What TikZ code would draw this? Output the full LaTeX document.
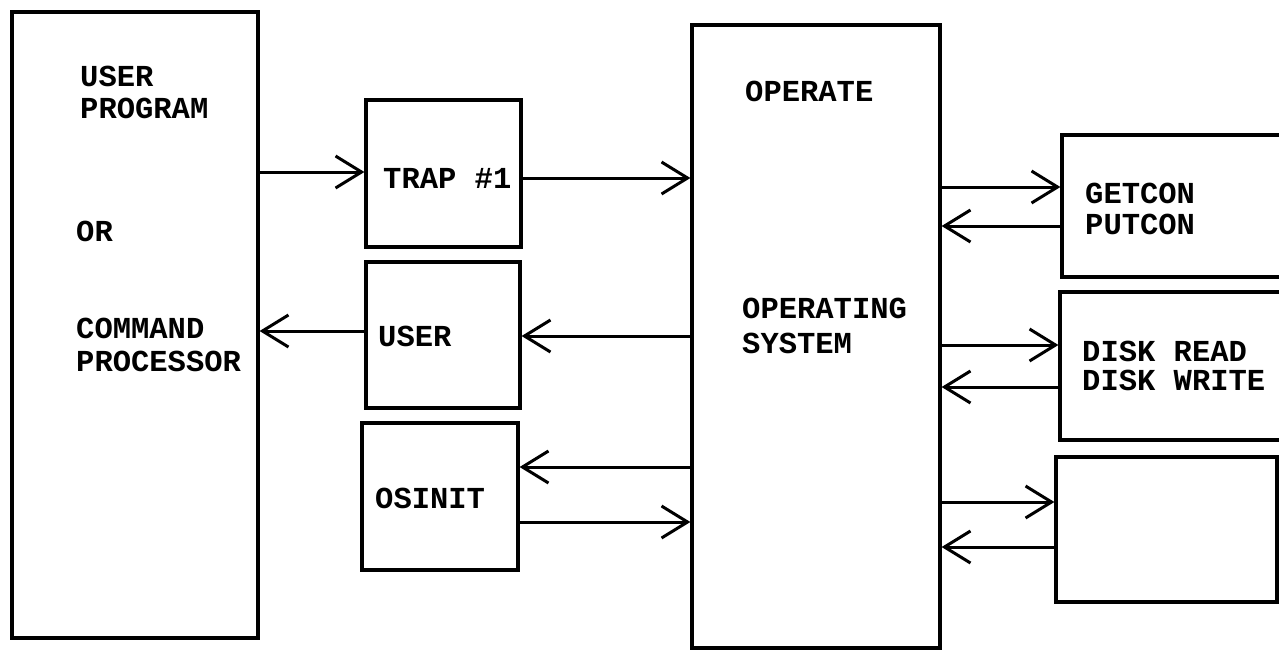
\documentclass[tikz,border=0pt]{standalone}
\usepackage{fontspec}
\setmonofont{Liberation Mono}
\usetikzlibrary{arrows.meta}
\tikzset{
  box/.style={draw, line width=3.2pt, inner sep=0pt, anchor=center},
  label/.style={inner sep=0pt, anchor=base west, font=\fontsize{30.5}{34}\ttfamily\bfseries},
  link/.style={line width=3pt, -{Straight Barb[length=26pt,width=32pt,line width=3pt]}},
}
\begin{document}
\begin{tikzpicture}[x=1pt, y=-1pt]
\useasboundingbox (0,0) rectangle (1279,649);
\clip (0,0) rectangle (1279,649);

% blocks
\node[box, minimum width=246pt, minimum height=626pt] (prog)   at (135,325)    {};
\node[box, minimum width=155pt, minimum height=147pt] (trap)   at (443.5,173.5) {};
\node[box, minimum width=154pt, minimum height=146pt] (user)   at (443,335)    {};
\node[box, minimum width=156pt, minimum height=147pt] (osinit) at (440,496.5)  {};
\node[box, minimum width=248pt, minimum height=623pt] (os)     at (816,336.5)  {};
\node[box, minimum width=228pt, minimum height=142pt] (con)    at (1176,206)   {};
\node[box, minimum width=230pt, minimum height=148pt] (disk)   at (1175,366)   {};
\node[box, minimum width=221pt, minimum height=145pt] (spare)  at (1166.5,529.5) {};

% texts
\node[label] (tUser)    at (80,86)   {USER};
\node[label] (tProgram) at (80,118)  {PROGRAM};
\node[label] (tOr)      at (76,241)  {OR};
\node[label] (tCommand) at (76,338)  {COMMAND};
\node[label] (tProc)    at (76,371)  {PROCESSOR};
\node[label] (tTrap)    at (383,188) {TRAP \#1};
\node[label] (tUser2)   at (378,346) {USER};
\node[label] (tOsinit)  at (375,508) {OSINIT};
\node[label] (tOperate) at (745,101) {OPERATE};
\node[label] (tOpsys)   at (742,318) {OPERATING};
\node[label] (tSystem)  at (742,353) {SYSTEM};
\node[label] (tGet)     at (1085,203) {GETCON};
\node[label] (tPut)     at (1085,234) {PUTCON};
\node[label] (tRead)    at (1082,361) {DISK READ};
\node[label] (tWrite)   at (1082,390) {DISK WRITE};

% connectors
\draw[link] (prog.east |- 0,172)  -- (trap.west |- 0,172);
\draw[link] (trap.east |- 0,178)  -- (os.west |- 0,178);
\draw[link] (os.west |- 0,336)    -- (user.east |- 0,336);
\draw[link] (user.west |- 0,331)  -- (prog.east |- 0,331);
\draw[link] (os.west |- 0,467)    -- (osinit.east |- 0,467);
\draw[link] (osinit.east |- 0,522) -- (os.west |- 0,522);

\draw[link] (os.east |- 0,187)    -- (con.west |- 0,187);
\draw[link] (con.west |- 0,226)   -- (os.east |- 0,226);
\draw[link] (os.east |- 0,345)    -- (disk.west |- 0,345);
\draw[link] (disk.west |- 0,387)  -- (os.east |- 0,387);
\draw[link] (os.east |- 0,502)    -- (spare.west |- 0,502);
\draw[link] (spare.west |- 0,547) -- (os.east |- 0,547);
\end{tikzpicture}
\end{document}
